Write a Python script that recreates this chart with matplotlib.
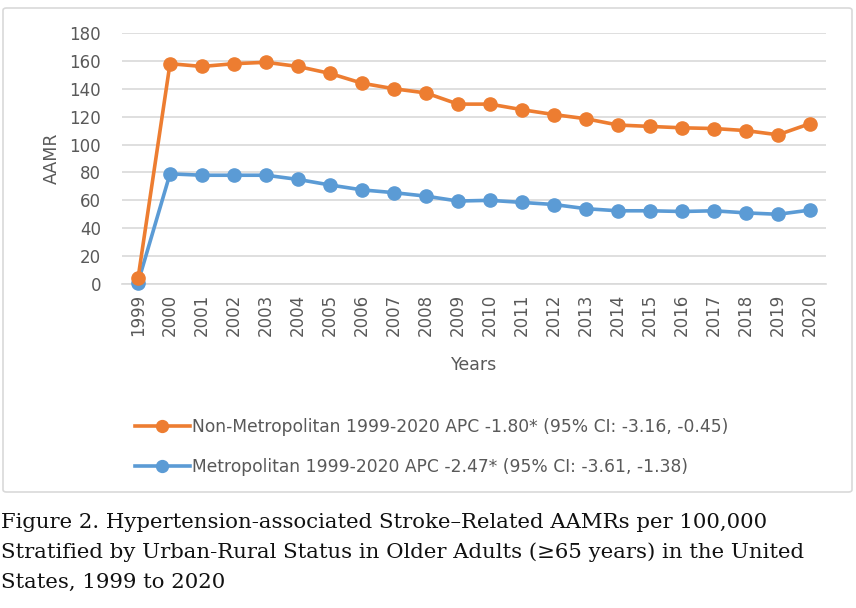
import matplotlib
matplotlib.use("Agg")
import matplotlib.pyplot as plt
from matplotlib.patches import FancyBboxPatch

# data
years = [str(y) for y in range(1999, 2021)]
non_metro = [4, 158, 156, 158, 159, 156, 151, 144, 140, 137, 129, 129, 125, 121.5,
             118.5, 114, 113, 112, 111.5, 110, 107, 115]
metro = [1, 79, 78, 78, 78, 75, 71, 67.5, 65.5, 63, 59.5, 60, 58.5, 57,
         54, 52.5, 52.5, 52, 52.5, 51, 50, 53]
yticks = list(range(0, 181, 20))

label_non = "Non-Metropolitan 1999-2020 APC -1.80* (95% CI: -3.16, -0.45)"
label_met = "Metropolitan 1999-2020 APC -2.47* (95% CI: -3.61, -1.38)"
caption = ["Figure 2. Hypertension-associated Stroke\u2013Related AAMRs per 100,000",
           "Stratified by Urban-Rural Status in Older Adults (\u226565 years) in the United",
           "States, 1999 to 2020"]

ORANGE = "#ED7D31"
BLUE = "#5B9BD5"
GREY = "#595959"

plt.rcParams["font.family"] = ["DejaVu Sans"]

W, H = 856, 608
fig = plt.figure(figsize=(W / 100, H / 100), dpi=100)

# chart frame
frame = FancyBboxPatch((3 / W, 1 - 492 / H), 849 / W, 484 / H,
                       boxstyle="round,pad=0,rounding_size=0.004",
                       transform=fig.transFigure, fill=False,
                       edgecolor="#D9D9D9", linewidth=1.2)
fig.patches.append(frame)

ax = fig.add_axes([122 / W, 1 - 284 / H, 704 / W, 251 / H])
x = list(range(len(years)))
ax.plot(x, non_metro, color=ORANGE, lw=2.6, marker="o", ms=9.5, label=label_non,
        zorder=4, clip_on=False)
ax.plot(x, metro, color=BLUE, lw=2.6, marker="o", ms=9.5, label=label_met,
        zorder=3, clip_on=False)

ax.set_xlim(-0.5, len(years) - 0.5)
ax.set_ylim(0, 180)
ax.set_yticks(yticks)
ax.set_xticks(x)
ax.set_xticklabels(years, rotation=90)
ax.grid(axis="y", color="#D9D9D9", lw=1.2)
ax.set_axisbelow(True)
for s in ["top", "right", "left"]:
    ax.spines[s].set_visible(False)
ax.spines["bottom"].set_color("#D9D9D9")
ax.spines["bottom"].set_linewidth(1.2)
ax.tick_params(length=0, labelsize=12, colors=GREY, pad=7)
ax.tick_params(axis="y", pad=15)
ax.set_xlabel("Years", fontsize=12.5, color=GREY, labelpad=14)
ax.set_ylabel("AAMR", fontsize=12.5, color=GREY, labelpad=6)

fig.legend(loc="upper left", bbox_to_anchor=(128 / W, 1 - 411 / H), frameon=False,
           fontsize=12.3, labelcolor=GREY, handlelength=3.2, handletextpad=0.15,
           labelspacing=1.3, borderaxespad=0, markerscale=0.9)

for i, line in enumerate(caption):
    fig.text(1 / W, 1 - (528 + 30 * i) / H, line, fontsize=15.3, color="#111111",
             family=["DejaVu Serif"], va="baseline", ha="left")

fig.savefig("out.png", dpi=100)
